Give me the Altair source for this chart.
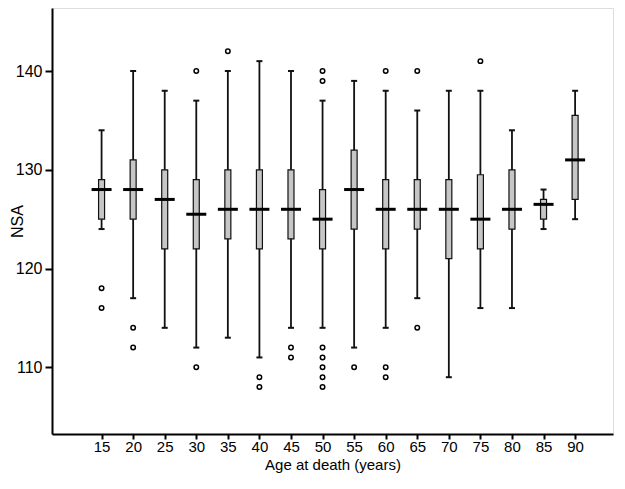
import altair as alt
import pandas as pd

ages    = [15, 20, 25, 30, 35, 40, 45, 50, 55, 60, 65, 70, 75, 80, 85, 90]
lows    = [124, 117, 114, 112, 113, 111, 114, 114, 112, 114, 117, 109, 116, 116, 124, 125]
q1s     = [125, 125, 122, 122, 123, 122, 123, 122, 124, 122, 124, 121, 122, 124, 125, 127]
medians = [128, 128, 127, 125.5, 126, 126, 126, 125, 128, 126, 126, 126, 125, 126, 126.5, 131]
q3s     = [129, 131, 130, 129, 130, 130, 130, 128, 132, 129, 129, 129, 129.5, 130, 127, 135.5]
highs   = [134, 140, 138, 137, 140, 141, 140, 137, 139, 138, 136, 138, 138, 134, 128, 138]

out_ages   = [15, 15, 20, 20, 30, 30, 35, 40, 40, 45, 45,
              50, 50, 50, 50, 50, 50, 50, 55, 60, 60, 60, 65, 65, 75]
out_values = [118, 116, 114, 112, 140, 110, 142, 109, 108, 112, 111,
              140, 139, 112, 111, 110, 109, 108, 110, 140, 110, 109, 140, 114, 141]

stats = pd.DataFrame({"age": ages, "low": lows, "q1": q1s, "median": medians,
                      "q3": q3s, "high": highs})
outliers = pd.DataFrame({"age": out_ages, "value": out_values})

FONT = "Liberation Sans"
xscale = alt.Scale(domain=[7.94, 95.21], nice=False, zero=False)
yscale = alt.Scale(domain=[103.25, 146.38], nice=False, zero=False)

x_axis = alt.Axis(values=ages, title="Age at death (years)", grid=False,
                  labelOverlap=False,
                  tickSize=5, tickWidth=2, tickColor="black",
                  domainColor="black", domainWidth=2,
                  labelFontSize=15, labelFont=FONT, labelColor="black",
                  labelPadding=0, titleFontSize=15, titleFont=FONT,
                  titleFontWeight="normal", titleColor="black",
                  titleY=35, titleBaseline="alphabetic", titleAlign="center")
y_axis = alt.Axis(values=[110, 120, 130, 140], title="NSA", grid=False,
                  labelOverlap=False,
                  tickSize=7, tickWidth=2, tickColor="black",
                  domainColor="black", domainWidth=2,
                  labelFontSize=16, labelFont=FONT, labelColor="black",
                  labelPadding=3, titleFontSize=16, titleFont=FONT,
                  titleFontWeight="normal", titleColor="black",
                  titleX=-35, titleY=213, titleAlign="center",
                  titleBaseline="middle", titleAngle=270)

X = alt.X("age:Q", scale=xscale, axis=x_axis)

def Y(field):
    return alt.Y(field, type="quantitative", scale=yscale, axis=y_axis)

base = alt.Chart(stats)

whisker = base.mark_rule(color="#111111", strokeWidth=1.8).encode(
    x=X, y=Y("low"), y2="high:Q")
cap_low = base.mark_tick(orient="horizontal", size=6, thickness=2,
                         color="#111111", opacity=1).encode(x=X, y=Y("low"))
cap_high = base.mark_tick(orient="horizontal", size=6, thickness=2,
                          color="#111111", opacity=1).encode(x=X, y=Y("high"))
box = base.mark_bar(width=6, fill="#c6c6c6", stroke="#111111", strokeWidth=1.2,
                    opacity=1).encode(x=X, y=Y("q1"), y2="q3:Q")
med = base.mark_tick(orient="horizontal", size=20, thickness=3,
                     color="black", opacity=1).encode(x=X, y=Y("median"))
pts = alt.Chart(outliers).mark_point(shape="circle", size=20, filled=False,
                                     color="black", strokeWidth=1.5, opacity=1).encode(
    x=X, y=Y("value"))

chart = alt.layer(whisker, cap_low, cap_high, box, med, pts).properties(
    width=561, height=426,
    autosize=alt.AutoSizeParams(type="none"),
    padding={"left": 44, "top": 0, "right": 2, "bottom": 39},
).configure_view(stroke="black", strokeWidth=1.5).configure(background="white")

chart.save("out.html", embed_options={"renderer": "svg", "actions": False})
